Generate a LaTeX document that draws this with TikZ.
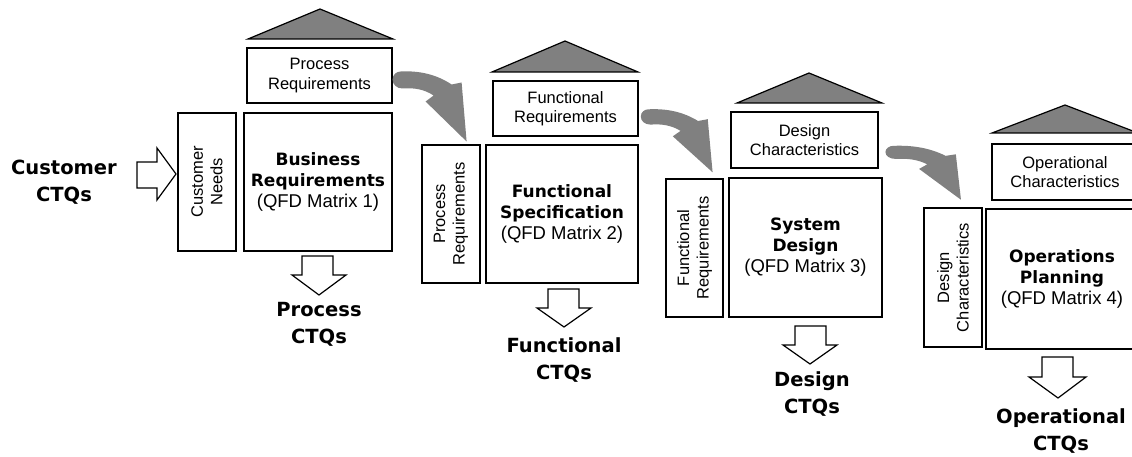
\documentclass[tikz,border=0pt]{standalone}
\usepackage{fontspec}
\setmainfont{Liberation Sans}
\newfontfamily\boldfam{DejaVu Sans}
\begin{document}
\begin{tikzpicture}[x=1pt,y=-1pt,
  box/.style={draw=black, line width=1.2pt, fill=white, inner sep=0pt, align=center},
  lbl/.style={font=\fontsize{16.5}{19.5}\selectfont},
  ttl/.style={font=\fontsize{17}{21}\selectfont},
  ctq/.style={align=center, inner sep=0pt, font=\boldfam\bfseries\fontsize{19.5}{27}\selectfont},
  roof/.style={draw=black, line width=1.2pt, fill=black!50, line join=miter},
  blockarrow/.style={draw=black, line width=1.2pt, fill=white, line join=miter},
  curvearrow/.style={fill=black!50, draw=none}]
\clip (0,0) rectangle (1132,457);
\fill[white] (0,0) rectangle (1132,457);
\newcommand\qfdbold[2]{{\boldfam\bfseries #1}\\{\boldfam\bfseries #2}}
\newcommand\qfdcurve{%
  (1,-8) .. controls (20,-9) and (37,-5) .. (52,5) -- (62,3) -- (67,62) -- (26,22) -- (34,16)
  .. controls (25,10) and (15,8) .. (3,9) .. controls (-3,9) and (-7,5) .. (-7,0)
  .. controls (-7,-5) and (-3,-8) .. (1,-8) -- cycle}

% Customer CTQs input
\node[ctq] (cust) at (64,182) {Customer\\CTQs};
\draw[blockarrow] (137,162) -- (157,162) -- (157,148) -- (176,174) -- (157,200) -- (157,188) -- (137,188) -- cycle;

% Stage 1
\path[roof] (248,39) -- (320,9) -- (393,39) -- cycle;
\node[box, lbl, minimum width=145pt, minimum height=55pt] (t1) at (319.5,75.5) {Process\\Requirements};
\node[box, lbl, rotate=90, minimum width=138pt, minimum height=58pt] (l1) at (207,182) {Customer\\Needs};
\node[box, ttl, minimum width=148pt, minimum height=138pt] (m1) at (318,182)
  {\qfdbold{Business}{Requirements}\\{\fontsize{18.5}{21}\selectfont (QFD Matrix 1)}};
\draw[blockarrow] (302,256) -- (333,256) -- (333,275) -- (346,275) -- (319,295) -- (292,275) -- (302,275) -- cycle;
\node[ctq] (c1) at (319,324) {Process\\CTQs};

% Stage 2
\path[roof] (492,72) -- (565,41) -- (638,72) -- cycle;
\node[box, lbl, minimum width=145pt, minimum height=55pt] (t2) at (565.5,108.5) {Functional\\Requirements};
\node[box, lbl, rotate=90, minimum width=138pt, minimum height=58pt] (l2) at (451,214) {Process\\Requirements};
\node[box, ttl, minimum width=152pt, minimum height=138pt] (m2) at (562,214)
  {\qfdbold{Functional}{Specification}\\{\fontsize{18.5}{21}\selectfont (QFD Matrix 2)}};
\draw[blockarrow] (548,289) -- (579,289) -- (579,308) -- (591,308) -- (564,327) -- (537,308) -- (548,308) -- cycle;
\node[ctq] (c2) at (564,360) {Functional\\CTQs};

% Stage 3
\path[roof] (737,103) -- (809,73) -- (882,103) -- cycle;
\node[box, lbl, minimum width=147pt, minimum height=56pt] (t3) at (804.5,140) {Design\\Characteristics};
\node[box, lbl, rotate=90, minimum width=138pt, minimum height=57pt] (l3) at (694.5,248) {Functional\\Requirements};
\node[box, ttl, minimum width=153pt, minimum height=139pt] (m3) at (805.5,247.5)
  {\qfdbold{System}{Design}\\{\fontsize{18.5}{21}\selectfont (QFD Matrix 3)}};
\draw[blockarrow] (795,326) -- (826,326) -- (826,345) -- (837,345) -- (810,364) -- (783,345) -- (795,345) -- cycle;
\node[ctq] (c3) at (812,394) {Design\\CTQs};

% Stage 4
\path[roof] (992,133) -- (1065,105) -- (1138,133) -- cycle;
\node[box, lbl, minimum width=146pt, minimum height=56pt] (t4) at (1065,172) {Operational\\Characteristics};
\node[box, lbl, rotate=90, minimum width=139pt, minimum height=58pt] (l4) at (953,277.5) {Design\\Characteristics};
\node[box, ttl, minimum width=152pt, minimum height=140pt] (m4) at (1062,279)
  {\qfdbold{Operations}{Planning}\\{\fontsize{18.5}{21}\selectfont (QFD Matrix 4)}};
\draw[blockarrow] (1042,357) -- (1073,357) -- (1073,377) -- (1086,377) -- (1058,398) -- (1029,377) -- (1042,377) -- cycle;
\node[ctq] (c4) at (1061,431) {Operational\\CTQs};

% Curved gray arrows between stages
\path[curvearrow, shift={(t1.east)}, shift={(7,4)}] \qfdcurve;
\path[curvearrow, shift={(t2.east)}, shift={(9,8)}, yscale=0.9, xscale=0.97] \qfdcurve;
\path[curvearrow, shift={(t3.east)}, shift={(14,12)}, yscale=0.77, xscale=1.02] \qfdcurve;
\end{tikzpicture}
\end{document}
